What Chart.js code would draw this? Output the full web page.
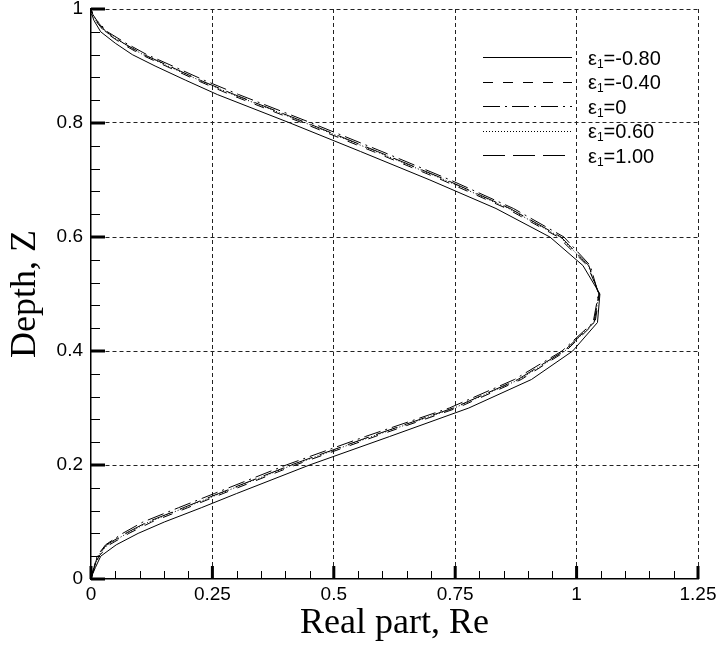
<!DOCTYPE html>
<html>
<head>
<meta charset="utf-8">
<script src="https://cdn.jsdelivr.net/npm/chart.js@4.4.1/dist/chart.umd.min.js"></script>
<style>
  html, body { margin: 0; padding: 0; background: #fff; }
</style>
</head>
<body>
<canvas id="depthChart" width="719" height="649"></canvas>
<script>
// depth levels shared by all curves
const depthZ = [0, 0.01, 0.02, 0.04, 0.06, 0.08, 0.1, 0.125, 0.15, 0.2, 0.25, 0.3, 0.35, 0.4, 0.45, 0.5,
                0.55, 0.6, 0.65, 0.7, 0.75, 0.8, 0.85, 0.875, 0.9, 0.92, 0.94, 0.96, 0.98, 0.99, 1];

// real part for each epsilon_1
const reM080 = [0, 0.004, 0.009, 0.020, 0.052, 0.097, 0.151, 0.227, 0.300, 0.450, 0.615, 0.778, 0.907, 0.992, 1.043, 1.048,
                1.013, 0.945, 0.834, 0.698, 0.555, 0.410, 0.260, 0.195, 0.132, 0.085, 0.050, 0.020, 0.006, 0.002, 0];
const reM040 = [0, 0.003, 0.008, 0.016, 0.038, 0.078, 0.125, 0.199, 0.272, 0.421, 0.585, 0.754, 0.886, 0.978, 1.038, 1.047,
                1.022, 0.962, 0.856, 0.723, 0.581, 0.436, 0.286, 0.218, 0.154, 0.103, 0.062, 0.028, 0.009, 0.003, 0];
const reZero = [0, 0.002, 0.006, 0.012, 0.030, 0.065, 0.107, 0.180, 0.254, 0.402, 0.565, 0.738, 0.872, 0.970, 1.034, 1.045,
                1.028, 0.974, 0.870, 0.740, 0.599, 0.454, 0.304, 0.233, 0.168, 0.115, 0.072, 0.034, 0.012, 0.004, 0];
const reP060 = [0, 0.003, 0.007, 0.014, 0.034, 0.074, 0.119, 0.193, 0.266, 0.415, 0.579, 0.748, 0.882, 0.976, 1.036, 1.046,
                1.024, 0.966, 0.860, 0.729, 0.587, 0.442, 0.292, 0.223, 0.158, 0.107, 0.066, 0.030, 0.010, 0.003, 0];
const reP100 = [0, 0.003, 0.007, 0.013, 0.032, 0.071, 0.116, 0.190, 0.263, 0.412, 0.575, 0.746, 0.879, 0.974, 1.036, 1.046,
                1.025, 0.968, 0.863, 0.732, 0.590, 0.445, 0.295, 0.225, 0.161, 0.109, 0.067, 0.031, 0.011, 0.004, 0];

const epsLabels = ['-0.80', '-0.40', '0', '0.60', '1.00'];
const xTicks = [0, 0.25, 0.5, 0.75, 1, 1.25];
const xTickLabels = ['0', '0.25', '0.5', '0.75', '1', '1.25'];
const yTicks = [0, 0.2, 0.4, 0.6, 0.8, 1];
const yTickLabels = ['0', '0.2', '0.4', '0.6', '0.8', '1'];

Chart.defaults.font.family = '"Liberation Sans", Arial, sans-serif';
Chart.defaults.color = '#000';

function toPoints(reVals) {
  return reVals.map((v, i) => ({ x: v, y: depthZ[i] }));
}

const seriesVals = [reM080, reM040, reZero, reP060, reP100];
const dashes = [[], [10, 10], [17, 5, 2, 5], [1, 2], [22, 8]];

const datasets = seriesVals.map((vals, i) => ({
  label: 'ε1=' + epsLabels[i],
  data: toPoints(vals),
  showLine: true,
  borderColor: '#000',
  borderWidth: 1,
  borderDash: dashes[i],
  pointRadius: 0,
  fill: false,
  tension: 0
}));

// inward major / minor tick marks + legend inside the plot
const overlay = {
  id: 'overlay',
  afterDraw(chart) {
    const c = chart.ctx;
    const a = chart.chartArea;
    const sx = chart.scales.x;
    const sy = chart.scales.y;
    c.save();
    c.strokeStyle = '#000';
    c.setLineDash([]);
    c.lineWidth = 1;
    c.beginPath();
    for (let k = 1; k < 25; k++) {
      if (k % 5 === 0) continue;
      const px = Math.round(sx.getPixelForValue(k * 0.05)) + 0.5;
      c.moveTo(px, a.bottom);
      c.lineTo(px, a.bottom - 8);
    }
    for (let k = 1; k < 25; k++) {
      if (k % 5 === 0) continue;
      const py = Math.round(sy.getPixelForValue(k * 0.04)) + 0.5;
      c.moveTo(a.left, py);
      c.lineTo(a.left + 9, py);
    }
    c.stroke();
    c.lineWidth = 3;
    c.beginPath();
    xTicks.forEach(v => {
      const px = sx.getPixelForValue(v);
      c.moveTo(px, a.bottom);
      c.lineTo(px, a.bottom - 13);
    });
    yTicks.forEach(v => {
      const py = sy.getPixelForValue(v);
      c.moveTo(a.left, py);
      c.lineTo(a.left + 14, py);
    });
    c.stroke();

    // legend
    const rows = [57, 81.5, 106, 130.5, 155];
    chart.data.datasets.forEach((ds, i) => {
      const ly = Math.round(rows[i]) + 0.5;
      c.strokeStyle = '#000';
      c.lineWidth = 1;
      c.setLineDash(ds.borderDash);
      c.beginPath();
      c.moveTo(483, ly);
      c.lineTo(572, ly);
      c.stroke();
      c.setLineDash([]);
      c.fillStyle = '#000';
      c.textBaseline = 'alphabetic';
      c.textAlign = 'left';
      let tx = 588;
      const base = rows[i] + 7.5;
      c.font = '20px "Liberation Sans", Arial, sans-serif';
      c.fillText('ε', tx, base);
      tx += c.measureText('ε').width;
      c.font = '12px "Liberation Sans", Arial, sans-serif';
      c.fillText('1', tx, base + 3);
      tx += c.measureText('1').width;
      c.font = '20px "Liberation Sans", Arial, sans-serif';
      c.fillText('=' + epsLabels[i], tx, base);
    });
    c.restore();
  }
};

const ctx = document.getElementById('depthChart').getContext('2d');

new Chart(ctx, {
  type: 'scatter',
  data: { datasets: datasets },
  options: {
    responsive: false,
    animation: false,
    layout: { padding: { top: 9, right: 21, left: 0, bottom: 0 } },
    plugins: {
      legend: { display: false },
      tooltip: { enabled: false }
    },
    scales: {
      x: {
        type: 'linear',
        min: 0,
        max: 1.25,
        afterBuildTicks: s => { s.ticks = xTicks.map(v => ({ value: v })); },
        afterFit: s => { s.height = 70; s.paddingLeft = 0; s.paddingRight = 0; },
        ticks: {
          padding: 4,
          font: { size: 19 },
          maxRotation: 0,
          callback: (value, index) => xTickLabels[index]
        },
        grid: {
          drawTicks: false,
          color: c => (c.tick && c.tick.value === 0) ? 'rgba(0,0,0,0)' : '#222',
          lineWidth: 1
        },
        border: { display: true, color: '#000', width: 1.5, dash: [4, 3] },
        title: {
          display: true,
          text: 'Real part, Re',
          font: { family: '"Liberation Serif", "Times New Roman", serif', size: 36, lineHeight: 1.2 },
          padding: { top: 0, bottom: 4 }
        }
      },
      y: {
        type: 'linear',
        min: 0,
        max: 1,
        afterBuildTicks: s => { s.ticks = yTicks.map(v => ({ value: v })); },
        afterFit: s => { s.width = 91; s.paddingTop = 0; s.paddingBottom = 0; },
        ticks: {
          padding: 8,
          font: { size: 19 },
          callback: (value, index) => yTickLabels[index]
        },
        grid: {
          drawTicks: false,
          color: c => (c.tick && c.tick.value === 0) ? 'rgba(0,0,0,0)' : '#222',
          lineWidth: 1
        },
        border: { display: true, color: '#000', width: 1.5, dash: [4, 3] },
        title: {
          display: true,
          text: 'Depth, Z',
          font: { family: '"Liberation Serif", "Times New Roman", serif', size: 36, lineHeight: 1.2 },
          padding: { top: 4, bottom: 0 }
        }
      }
    }
  },
  plugins: [overlay]
});
</script>
</body>
</html>
